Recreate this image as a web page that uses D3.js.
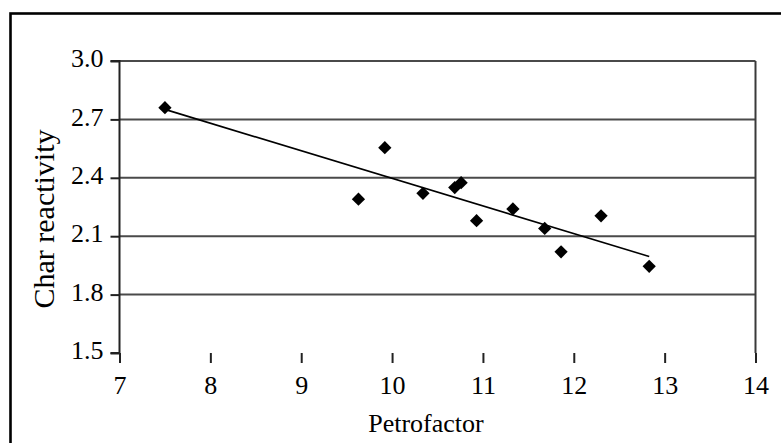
<!DOCTYPE html>
<html>
<head>
<meta charset="utf-8">
<script src="https://cdn.jsdelivr.net/npm/d3@7"></script>
<style>
  html, body { margin: 0; padding: 0; background: #fff; }
  svg { display: block; }
  text { font-family: "Liberation Serif", "Times New Roman", serif; fill: #000; }
</style>
</head>
<body>
<svg id="chart" width="781" height="443"></svg>
<script>
// Petrofactor vs. char reactivity samples
const petrofactor = [7.50, 9.63, 9.92, 10.34, 10.69, 10.76, 10.93, 11.33, 11.68, 11.86, 12.30, 12.83];
const reactivity  = [2.76, 2.29, 2.555, 2.32, 2.35, 2.375, 2.18, 2.24, 2.14, 2.02, 2.205, 1.945];

const xTicks = [7, 8, 9, 10, 11, 12, 13, 14];
const yTicks = [1.5, 1.8, 2.1, 2.4, 2.7, 3.0];

const xLabel = "Petrofactor";
const yLabel = "Char reactivity";

const svg = d3.select("#chart");
const W = 781, H = 443;
const plot = { left: 119.5, right: 755.5, top: 61, bottom: 353 };

const x = d3.scaleLinear().domain([7, 14]).range([plot.left, plot.right]);
const y = d3.scaleLinear().domain([1.5, 3.0]).range([plot.bottom, plot.top]);

// outer frame
svg.append("rect")
  .attr("x", 10.5).attr("y", 13.5)
  .attr("width", W + 20).attr("height", H + 20)
  .attr("fill", "none").attr("stroke", "#000").attr("stroke-width", 2.6);

// horizontal gridlines
svg.append("g").selectAll("line")
  .data(yTicks.filter(v => v > 1.5))
  .join("line")
  .attr("x1", plot.left).attr("x2", plot.right)
  .attr("y1", d => y(d)).attr("y2", d => y(d))
  .attr("stroke", "#4a4a4a").attr("stroke-width", 2);

// right border of plot area
svg.append("line")
  .attr("x1", plot.right).attr("x2", plot.right)
  .attr("y1", plot.top).attr("y2", plot.bottom)
  .attr("stroke", "#3a3a3a").attr("stroke-width", 2);

// axes
const yAxis = d3.axisLeft(y).tickValues(yTicks).tickFormat(d3.format(".1f"))
  .tickSize(9).tickPadding(7);
const xAxis = d3.axisBottom(x).tickValues(xTicks).tickFormat(d3.format("d"))
  .tickSize(10).tickPadding(13);

const gy = svg.append("g").attr("transform", `translate(${plot.left},0)`).call(yAxis);
const gx = svg.append("g").attr("transform", `translate(0,${plot.bottom})`).call(xAxis);

[gx, gy].forEach(g => {
  g.select(".domain").attr("stroke", "#222").attr("stroke-width", 2);
  g.selectAll(".tick line").attr("stroke", "#222").attr("stroke-width", 2);
  g.selectAll(".tick text")
    .style("font-family", "'Liberation Serif', 'Times New Roman', serif")
    .style("font-size", "26px").attr("fill", "#000");
});
gy.select(".domain").attr("d", `M-9,${plot.bottom}H0V${plot.top}H-9`);
gx.select(".domain").attr("d", `M${plot.left},${plot.bottom + 10}V${plot.bottom}H${plot.right}V${plot.bottom + 10}`);
gy.selectAll(".tick text").attr("dy", "0.22em");

// linear trend line (least squares over the samples)
const n = petrofactor.length;
const mx = d3.mean(petrofactor), my = d3.mean(reactivity);
let sxy = 0, sxx = 0;
for (let i = 0; i < n; i++) {
  sxy += (petrofactor[i] - mx) * (reactivity[i] - my);
  sxx += (petrofactor[i] - mx) ** 2;
}
const slope = sxy / sxx, intercept = my - slope * mx;
const [xMin, xMax] = d3.extent(petrofactor);
svg.append("line")
  .attr("x1", x(xMin)).attr("y1", y(intercept + slope * xMin))
  .attr("x2", x(xMax)).attr("y2", y(intercept + slope * xMax))
  .attr("stroke", "#000").attr("stroke-width", 1.6);

// diamond markers
const diamond = d3.symbol().type(d3.symbolSquare).size(88);
svg.append("g").selectAll("path")
  .data(petrofactor.map((v, i) => [v, reactivity[i]]))
  .join("path")
  .attr("d", diamond)
  .attr("transform", d => `translate(${x(d[0])},${y(d[1])}) rotate(45)`)
  .attr("fill", "#000");

// axis titles
svg.append("text")
  .attr("x", 426).attr("y", 432)
  .attr("text-anchor", "middle")
  .style("font-size", "26px")
  .text(xLabel);

svg.append("text")
  .attr("transform", `translate(54,219) rotate(-90)`)
  .attr("text-anchor", "middle")
  .style("font-size", "30px")
  .text(yLabel);
</script>
</body>
</html>
